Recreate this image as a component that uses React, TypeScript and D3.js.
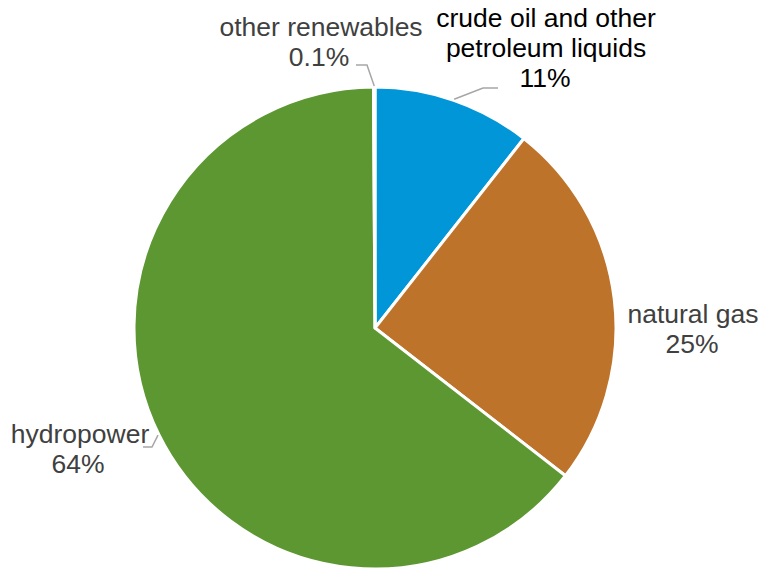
import React from "react";
import * as d3 from "d3";

const categories = ["crude oil and other petroleum liquids", "natural gas", "hydropower", "other renewables"];
const values = [10.6, 24.9, 64.4, 0.1];
const valueLabels = ["11%", "25%", "64%", "0.1%"];
const colors = ["#0096D7", "#BD732A", "#5D9732", "#A5A5A5"];

const W = 762, H = 570;
const cx = 375, cy = 328, R = 241;

const labelLines = [
  ["crude oil and other", "petroleum liquids", "11%"],
  ["natural gas", "25%"],
  ["hydropower", "64%"],
  ["other renewables", "0.1%"],
];
const labelPos = [
  { x: 546, y: 27, color: "#000000", numX: 545 },
  { x: 693, y: 323, color: "#404040", numX: 692 },
  { x: 80, y: 443, color: "#404040", numX: 78 },
  { x: 321, y: 35.5, color: "#404040", numX: 319 },
];
const leaders: ([number, number][] | null)[] = [
  [[483, 88], [498, 88]],
  null,
  [[152, 447], [143, 447]],
  [[367, 65], [356, 65]],
];

const FS = 25;
const SX = 1.06;

export default function App() {
  const pie = d3.pie<number>().sort(null).value((d) => d)(values);
  const arc = d3.arc<d3.PieArcDatum<number>>().innerRadius(0).outerRadius(R);
  return (
    <svg width={W} height={H} style={{ position: "absolute", left: 0, top: 0, background: "#fff" }}
      fontFamily="Liberation Sans, Arial, sans-serif">
      <g transform={`translate(${cx},${cy})`}>
        {pie.map((p, i) => (
          <path key={i} d={arc(p) || ""} fill={colors[i]} stroke="#fff" strokeWidth={3} strokeLinejoin="round" />
        ))}
      </g>
      {pie.map((p, i) => {
        const L = leaders[i];
        if (!L) return null;
        const a = (p.startAngle + p.endAngle) / 2;
        const sx = cx + Math.sin(a) * (R + 1);
        const sy = cy - Math.cos(a) * (R + 1);
        const pts = [[sx, sy], ...L];
        return (
          <polyline key={"l" + i} points={pts.map((q) => q.join(",")).join(" ")} fill="none" stroke="#A6A6A6" strokeWidth={1.5} />
        );
      })}
      {labelLines.map((lines, i) => (
        <g key={"t" + i}>
          {lines.map((ln, j) => {
            const isNum = j === lines.length - 1;
            const x = isNum ? labelPos[i].numX : labelPos[i].x;
            return (
              <text key={j} transform={`translate(${x},${labelPos[i].y + j * 30}) scale(${SX},1)`}
                fill={labelPos[i].color} fontSize={FS} textAnchor="middle">
                {isNum ? valueLabels[i] : ln}
              </text>
            );
          })}
        </g>
      ))}
    </svg>
  );
}
